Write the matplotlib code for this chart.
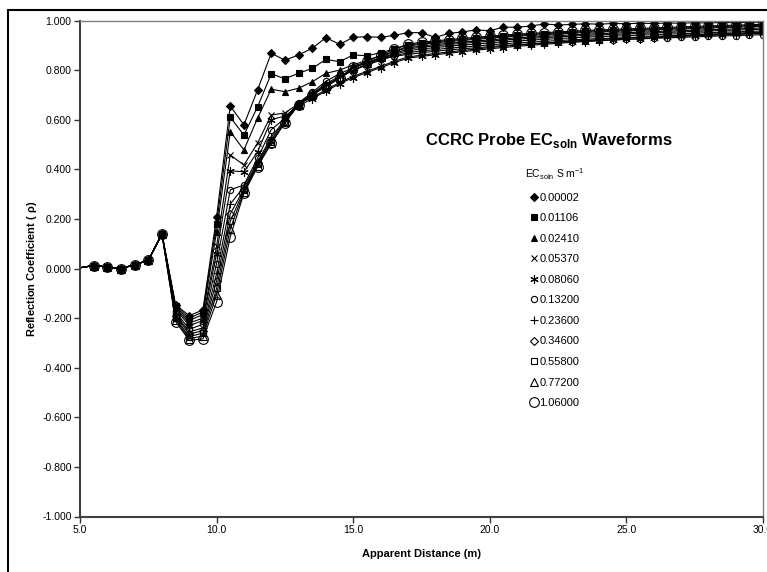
import matplotlib
matplotlib.use("Agg")
import matplotlib.pyplot as plt
from matplotlib.lines import Line2D
from matplotlib.patches import Rectangle

plt.rcParams['font.family'] = ['Liberation Sans', 'DejaVu Sans']
plt.rcParams['mathtext.fontset'] = 'custom'
plt.rcParams['mathtext.rm'] = 'Liberation Sans'
plt.rcParams['mathtext.bf'] = 'Liberation Sans:bold'

# apparent distance (m)
dist = [5.0, 5.5, 6.0, 6.5, 7.0, 7.5, 8.0, 8.5, 9.0, 9.5,
        10.0, 10.5, 11.0, 11.5, 12.0, 12.5, 13.0, 13.5, 14.0, 14.5,
        15.0, 15.5, 16.0, 16.5, 17.0, 17.5, 18.0, 18.5, 19.0, 19.5,
        20.0, 20.5, 21.0, 21.5, 22.0, 22.5, 23.0, 23.5, 24.0, 24.5,
        25.0, 25.5, 26.0, 26.5, 27.0, 27.5, 28.0, 28.5, 29.0, 29.5, 30.0]

# first part is the same for every solution
lead = [0.003, 0.012, 0.006, 0.000, 0.015, 0.033, 0.139]

ec_labels = ['0.00002', '0.01106', '0.02410', '0.05370', '0.08060', '0.13200',
             '0.23600', '0.34600', '0.55800', '0.77200', '1.06000']

rho_00002 = lead + [-0.147, -0.190, -0.167, 0.209, 0.655, 0.579, 0.720, 0.868, 0.840, 0.861,
                    0.888, 0.931, 0.904, 0.932, 0.935, 0.932, 0.940,
                    0.951, 0.951, 0.932, 0.948, 0.954, 0.962, 0.959, 0.973, 0.973, 0.978,
                    0.986, 0.982, 0.984, 0.987, 0.985, 0.988, 0.987, 0.989, 0.988, 0.990,
                    0.989, 0.991, 0.990, 0.992, 0.991, 0.993, 0.993]
rho_01106 = lead + [-0.150, -0.200, -0.175, 0.178, 0.610, 0.538, 0.652, 0.785, 0.765, 0.787,
                    0.807, 0.843, 0.834, 0.861, 0.858, 0.870, 0.885,
                    0.901, 0.908, 0.914, 0.919, 0.924, 0.928, 0.933, 0.937, 0.941, 0.944,
                    0.947, 0.950, 0.953, 0.956, 0.958, 0.960, 0.962, 0.964, 0.966, 0.968,
                    0.970, 0.972, 0.974, 0.976, 0.977, 0.979, 0.981]
rho_02410 = lead + [-0.155, -0.210, -0.185, 0.148, 0.552, 0.478, 0.606, 0.723, 0.713, 0.727,
                    0.753, 0.787, 0.800, 0.821, 0.840, 0.858, 0.875,
                    0.890, 0.897, 0.903, 0.908, 0.913, 0.917, 0.922, 0.926, 0.930, 0.933,
                    0.936, 0.939, 0.942, 0.945, 0.947, 0.949, 0.951, 0.953, 0.955, 0.957,
                    0.959, 0.961, 0.963, 0.965, 0.966, 0.968, 0.970]
rho_05370 = lead + [-0.160, -0.220, -0.200, 0.090, 0.458, 0.417, 0.506, 0.619, 0.627, 0.665,
                    0.690, 0.720, 0.750, 0.775, 0.795, 0.815, 0.835,
                    0.853, 0.860, 0.867, 0.873, 0.879, 0.885, 0.891, 0.896, 0.901, 0.905,
                    0.909, 0.913, 0.917, 0.920, 0.923, 0.926, 0.929, 0.932, 0.935, 0.938,
                    0.941, 0.943, 0.945, 0.947, 0.949, 0.951, 0.953]
rho_08060 = lead + [-0.165, -0.230, -0.210, 0.060, 0.394, 0.390, 0.470, 0.600, 0.615, 0.655,
                    0.685, 0.715, 0.745, 0.770, 0.790, 0.810, 0.830,
                    0.848, 0.855, 0.862, 0.868, 0.874, 0.880, 0.886, 0.891, 0.896, 0.900,
                    0.904, 0.908, 0.912, 0.915, 0.918, 0.921, 0.924, 0.927, 0.930, 0.933,
                    0.936, 0.938, 0.940, 0.942, 0.944, 0.946, 0.948]
rho_13200 = lead + [-0.175, -0.245, -0.225, 0.020, 0.317, 0.337, 0.445, 0.560, 0.605, 0.668,
                    0.710, 0.755, 0.785, 0.810, 0.830, 0.845, 0.856,
                    0.863, 0.870, 0.876, 0.881, 0.886, 0.890, 0.895, 0.899, 0.903, 0.906,
                    0.909, 0.912, 0.915, 0.918, 0.920, 0.922, 0.924, 0.926, 0.928, 0.930,
                    0.932, 0.934, 0.936, 0.938, 0.939, 0.941, 0.943]
rho_23600 = lead + [-0.185, -0.255, -0.240, -0.020, 0.260, 0.330, 0.430, 0.530, 0.600, 0.665,
                    0.705, 0.745, 0.775, 0.800, 0.820, 0.840, 0.857,
                    0.870, 0.877, 0.883, 0.888, 0.893, 0.897, 0.902, 0.906, 0.910, 0.913,
                    0.916, 0.919, 0.922, 0.925, 0.927, 0.929, 0.931, 0.933, 0.935, 0.937,
                    0.939, 0.941, 0.943, 0.945, 0.946, 0.948, 0.950]
rho_34600 = lead + [-0.190, -0.265, -0.250, -0.050, 0.220, 0.320, 0.425, 0.520, 0.595, 0.663,
                    0.700, 0.740, 0.770, 0.800, 0.822, 0.845, 0.863,
                    0.878, 0.885, 0.891, 0.896, 0.901, 0.905, 0.910, 0.914, 0.918, 0.921,
                    0.924, 0.927, 0.930, 0.933, 0.935, 0.937, 0.939, 0.941, 0.943, 0.945,
                    0.947, 0.949, 0.951, 0.953, 0.954, 0.956, 0.958]
rho_55800 = lead + [-0.200, -0.275, -0.260, -0.080, 0.190, 0.315, 0.420, 0.510, 0.590, 0.660,
                    0.700, 0.737, 0.768, 0.800, 0.825, 0.848, 0.867,
                    0.885, 0.892, 0.898, 0.903, 0.908, 0.912, 0.917, 0.921, 0.925, 0.928,
                    0.931, 0.934, 0.937, 0.940, 0.942, 0.944, 0.946, 0.948, 0.950, 0.952,
                    0.954, 0.956, 0.958, 0.960, 0.961, 0.963, 0.965]
rho_77200 = lead + [-0.207, -0.283, -0.272, -0.105, 0.160, 0.310, 0.415, 0.505, 0.590, 0.660,
                    0.700, 0.735, 0.767, 0.810, 0.830, 0.852, 0.874,
                    0.897, 0.904, 0.910, 0.915, 0.920, 0.924, 0.929, 0.933, 0.937, 0.940,
                    0.943, 0.946, 0.949, 0.952, 0.954, 0.956, 0.958, 0.960, 0.962, 0.964,
                    0.966, 0.968, 0.970, 0.972, 0.973, 0.975, 0.977]
rho_106000 = lead + [-0.214, -0.290, -0.284, -0.134, 0.128, 0.303, 0.410, 0.505, 0.588, 0.660,
                     0.700, 0.733, 0.767, 0.814, 0.835, 0.860, 0.884,
                     0.905, 0.912, 0.918, 0.923, 0.928, 0.932, 0.937, 0.941, 0.945, 0.948,
                     0.951, 0.954, 0.957, 0.960, 0.962, 0.964, 0.966, 0.968, 0.970, 0.972,
                     0.974, 0.976, 0.978, 0.980, 0.981, 0.983, 0.985]

series = [rho_00002, rho_01106, rho_02410, rho_05370, rho_08060, rho_13200,
          rho_23600, rho_34600, rho_55800, rho_77200, rho_106000]

# marker, size, filled
styles = [('D', 4.0, True), ('s', 4.5, True), ('^', 5.0, True), ('x', 5.0, False),
          ((6, 2, 0), 6.0, False), ('o', 4.5, False), ('+', 6.0, False),
          ('D', 4.5, False), ('s', 5.0, False), ('^', 5.5, False), ('o', 7.0, False)]

fig = plt.figure(figsize=(7.67, 5.72), dpi=100)
ax = fig.add_axes([80 / 767, 1 - 516.5 / 572, 683 / 767, 496 / 572])

# outer chart border
fig.patches.append(Rectangle((8 / 767, -0.05), 1.2, 1 - 10 / 572 + 0.05,
                             transform=fig.transFigure, fill=False,
                             edgecolor='black', linewidth=1.5))

handles = []
for vals, (mk, ms, filled), lab in zip(series, styles, ec_labels):
    face = 'black' if filled else 'none'
    ax.plot(dist, vals, color='black', linewidth=0.8, marker=mk, markersize=ms,
            markerfacecolor=face, markeredgecolor='black', markeredgewidth=0.8,
            markevery=slice(1, None))
    handles.append(Line2D([], [], linestyle='none', marker=mk, markersize=ms,
                          markerfacecolor=face, markeredgecolor='black',
                          markeredgewidth=0.8, label=lab))

ax.set_xlim(5, 30)
ax.set_ylim(-1, 1)
ax.set_xticks([5, 10, 15, 20, 25, 30])
ax.set_xticklabels(['5.0', '10.0', '15.0', '20.0', '25.0', '30.0'])
ax.set_yticks([-1.0, -0.8, -0.6, -0.4, -0.2, 0.0, 0.2, 0.4, 0.6, 0.8, 1.0])
ax.set_yticklabels(['-1.000', '-0.800', '-0.600', '-0.400', '-0.200', '0.000',
                    '0.200', '0.400', '0.600', '0.800', '1.000'])
ax.tick_params(direction='out', length=4, width=1, colors='#333333',
               labelsize=7.5, labelcolor='black', pad=2)

for s in ['left', 'bottom']:
    ax.spines[s].set_color('#404040')
    ax.spines[s].set_linewidth(1.5)
for s in ['top', 'right']:
    ax.spines[s].set_color('#808080')
    ax.spines[s].set_linewidth(1.0)

ax.set_xlabel('Apparent Distance (m)', fontsize=8, fontweight='bold', labelpad=10)
ax.set_ylabel(r'Reflection Coefficient ( $\mathbf{\rho}$)', fontsize=8,
              fontweight='bold', labelpad=2)

fig.text(549 / 767, 1 - 141 / 572, r'CCRC Probe EC$_{\mathbf{soln}}$ Waveforms',
         fontsize=12, fontweight='bold', ha='center', va='center')

leg = fig.legend(handles=handles, loc='upper center',
                 bbox_to_anchor=(555 / 767, 1 - 162 / 572),
                 title=r'EC$_{\mathrm{soln}}$ S m$^{-1}$', title_fontsize=7.5,
                 fontsize=8, frameon=False, handlelength=0.6, handletextpad=0.2,
                 labelspacing=0.95, borderaxespad=0)

fig.savefig('out.png', dpi=100)
